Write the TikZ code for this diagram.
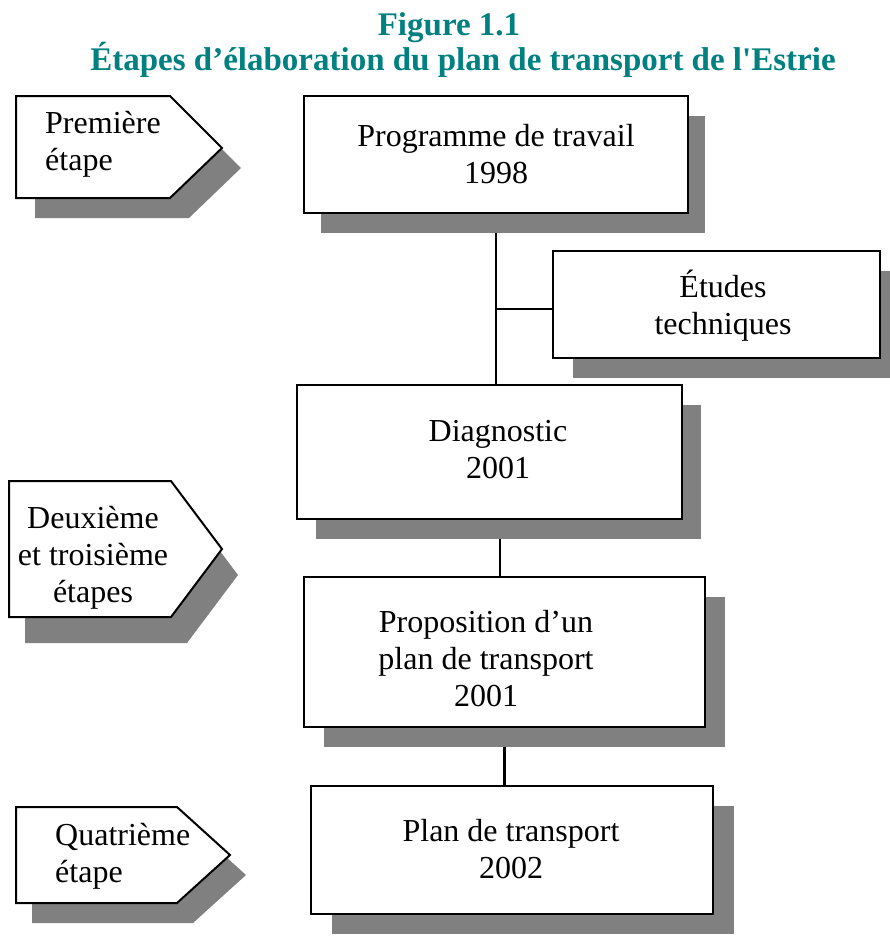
\documentclass[tikz,border=0pt]{standalone}
\usepackage{fontspec}
\setmainfont{Liberation Serif}[Ligatures=TeXOff]
\usetikzlibrary{shadows,backgrounds}
\definecolor{titleteal}{RGB}{0,128,128}
\definecolor{shadowgray}{RGB}{128,128,128}
\tikzset{
  boxshape/.style={draw, line width=2pt, fill=white, inner sep=0pt, outer sep=0pt,
    drop shadow={shadow xshift=#1, shadow yshift=-20pt, fill=shadowgray, opacity=1}},
  boxshape/.default=19pt,
  pent/.style={draw, line width=2pt, fill=white, line join=miter},
  pentshadow/.style={fill=shadowgray},
  body/.style={font=\fontsize{32}{37}\selectfont, inner sep=0pt, align=center},
  bodyleft/.style={font=\fontsize{32}{37}\selectfont, inner sep=0pt, align=left},
  titletext/.style={font=\bfseries\fontsize{33}{34}\selectfont, text=titleteal, inner sep=0pt},
  link/.style={line width=2.5pt},
}
\begin{document}
\begin{tikzpicture}[x=1pt,y=-1pt]
\useasboundingbox (0,0) rectangle (889,937);
% title
\node[titletext, anchor=base] (t1) at (449,35) {Figure 1.1};
\node[titletext, anchor=base] (t2) at (463,70) {Étapes d’élaboration du plan de transport de l'Estrie};
% step pentagons
\fill[pentshadow, shift={(19,20)}] (16,96) -- (170,96) -- (222,148) -- (170,198) -- (16,198) -- cycle;
\draw[pent] (16,96) -- (170,96) -- (222,148) -- (170,198) -- (16,198) -- cycle;
\node[bodyleft, anchor=west] (s1) at (45,144) {Première\\étape};
\fill[pentshadow, shift={(16,26)}] (9,481) -- (171,481) -- (222,549) -- (171,617) -- (9,617) -- cycle;
\draw[pent] (9,481) -- (171,481) -- (222,549) -- (171,617) -- (9,617) -- cycle;
\node[body] (s2) at (93,558) {Deuxième\\et troisième\\étapes};
\fill[pentshadow, shift={(16,20)}] (16,807) -- (177,807) -- (230,855) -- (177,903) -- (16,903) -- cycle;
\draw[pent] (16,807) -- (177,807) -- (230,855) -- (177,903) -- (16,903) -- cycle;
\node[bodyleft, anchor=west] (s3) at (55,856) {Quatrième\\étape};
% boxes
\node[boxshape=17pt, minimum width=384pt, minimum height=117pt] (prog) at (496,154.5) {};
\node[boxshape=20pt, minimum width=327pt, minimum height=107pt] (etudes) at (716.5,304.5) {};
\node[boxshape=19pt, minimum width=385pt, minimum height=134pt] (diag) at (489.5,452) {};
\node[boxshape=20pt, minimum width=401pt, minimum height=150pt] (prop) at (504.5,652) {};
\node[boxshape=21pt, minimum width=402pt, minimum height=128pt] (plan) at (512,850) {};
% texts in boxes
\node[body] (progt) at (496,154) {Programme de travail\\1998};
\node[body] (etudest) at (723,306) {Études\\techniques};
\node[body] (diagt) at (498,450) {Diagnostic\\2001};
\node[body] (propt) at (486,659) {Proposition d’un\\plan de transport\\2001};
\node[body] (plant) at (511,849) {Plan de transport\\2002};
% connectors
\coordinate (c1) at (496,309);
\coordinate (c2) at (500,0);
\begin{scope}[on background layer]
\draw[link] (prog.south) -- (prog.south |- diag.north);
\draw[link] (c1) -- (c1 -| etudes.west);
\draw[link] (diag.south -| c2) -- (prop.north -| c2);
\draw[link] (prop.south) -- (plan.north -| prop.south);
\end{scope}
\end{tikzpicture}
\end{document}
